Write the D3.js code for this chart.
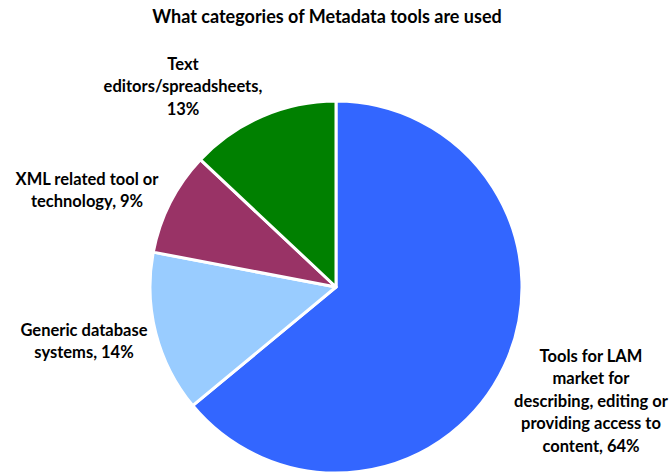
<!DOCTYPE html>
<html>
<head>
<meta charset="utf-8">
<script src="https://cdn.jsdelivr.net/npm/d3@7"></script>
<style>
  html, body { margin: 0; padding: 0; background: #fff; }
  svg text { font-family: Lato, "Open Sans", sans-serif; fill: #000; }
</style>
</head>
<body>
<svg id="chart" width="670" height="474"></svg>
<script>
// Share of metadata tool categories (percent), clockwise from 12 o'clock
const categories = [
  "Tools for LAM market for describing, editing or providing access to content",
  "Generic database systems",
  "XML related tool or technology",
  "Text editors/spreadsheets"
];
const shares = [64, 14, 9, 13];
const labelLines = [
  ["Tools for LAM", "market for", "describing, editing or", "providing access to", "content, 64%"],
  ["Generic database", "systems, 14%"],
  ["XML related tool or", "technology, 9%"],
  ["Text", "editors/spreadsheets,", "13%"]
];
const sliceColors = ["#3366FF", "#99CCFF", "#993366", "#008000"];

// Label block centres (first line) in page coordinates
const labelAnchors = [[591, 356], [84, 330], [87, 179], [183, 64]];

const svg = d3.select("#chart");
const cx = 336, cy = 287, radius = 186;

svg.append("text")
  .attr("x", 327).attr("y", 23)
  .attr("text-anchor", "middle")
  .attr("font-size", 18).attr("font-weight", "bold")
  .text("What categories of Metadata tools are used");

const data = categories.map((c, i) => ({ name: c, value: shares[i], lines: labelLines[i], color: sliceColors[i] }));

const pie = d3.pie().sort(null).value(d => d.value);
const arc = d3.arc().innerRadius(0).outerRadius(radius);

const g = svg.append("g").attr("transform", `translate(${cx},${cy})`);
g.selectAll("path")
  .data(pie(data))
  .join("path")
  .attr("d", arc)
  .attr("fill", d => d.data.color)
  .attr("stroke", "#fff")
  .attr("stroke-width", 3)
  .attr("stroke-linejoin", "round");

const lineH = 22.5;
data.forEach((d, i) => {
  const [x, y] = labelAnchors[i];
  const t = svg.append("text")
    .attr("text-anchor", "middle")
    .attr("font-size", 16.5).attr("font-weight", "bold");
  d.lines.forEach((ln, k) => {
    t.append("tspan")
      .attr("x", x)
      .attr("y", y + k * lineH)
      .attr("dy", "0.35em")
      .text(ln);
  });
});
</script>
</body>
</html>
